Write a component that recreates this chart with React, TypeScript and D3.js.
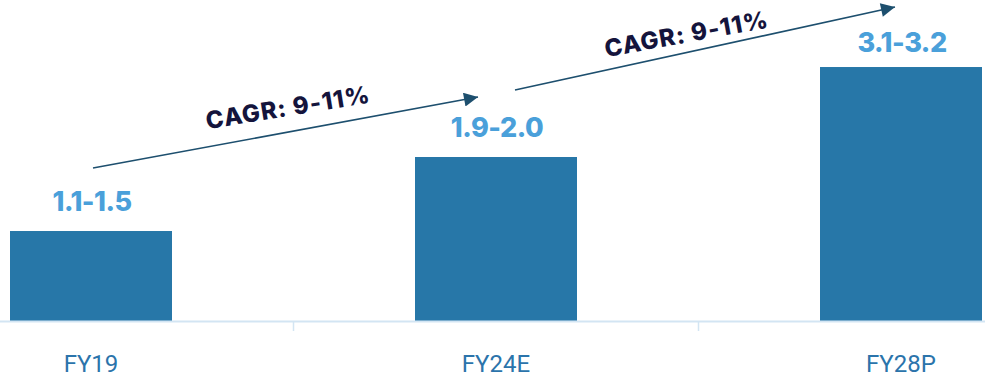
import React from "react";
import * as d3 from "d3";

const categories = ["FY19", "FY24E", "FY28P"];
const values = [1.07, 1.95, 3.02];
const valueLabels = ["1.1-1.5", "1.9-2.0", "3.1-3.2"];
const cagrLabels = ["CAGR: 9-11%", "CAGR: 9-11%"];

const W = 985;
const H = 379;
const baseline = 321;

const BAR = "#2777a8";
const LABEL = "#4aa0da";
const AXIS = "#d3e5f3";
const CAT = "#2b74ab";
const ARROW = "#1d4f6e";
const CAGR = "#14143c";

export default function App() {
  const x = d3.scalePoint<string>().domain(categories).range([91, 901]);
  const step = x.step();
  const barW = step * 0.4;
  const y = d3.scaleLinear().domain([0, 3.5]).range([baseline, baseline - 3.5 * 84.1]);

  const ticks = categories.slice(0, -1).map((c) => (x(c) as number) + step / 2);

  const arrows = categories.slice(0, -1).map((c, i) => {
    const x1 = (x(c) as number) + (i === 0 ? 2 : 19);
    const y1 = y(values[i]) - (i === 0 ? 63 : 67);
    const x2 = (x(categories[i + 1]) as number) - (i === 0 ? 18 : 6);
    const y2 = y(values[i + 1]) - 60;
    return { x1, y1, x2, y2 };
  });

  const textT = [0.51, 0.455];
  const textOff = [16, 10];
  const textTilt = [1.2, 2];

  return (
    <svg
      width={W}
      height={H}
      style={{ position: "absolute", left: 0, top: 0, background: "#fff" }}
    >
      <defs>
        <marker
          id="ah"
          viewBox="0 0 10 10"
          refX="10"
          refY="5"
          markerUnits="userSpaceOnUse"
          markerWidth="18"
          markerHeight="14"
          orient="auto"
        >
          <path d="M0,0 L10,5 L0,10 Z" fill={ARROW} />
        </marker>
      </defs>
      {categories.map((c, i) => (
        <rect
          key={c}
          x={(x(c) as number) - barW / 2}
          y={y(values[i])}
          width={barW}
          height={baseline - y(values[i])}
          fill={BAR}
        />
      ))}
      <line x1={0} x2={W} y1={baseline + 0.5} y2={baseline + 0.5} stroke={AXIS} strokeWidth={2} />
      {ticks.map((t, i) => (
        <line key={i} x1={t} x2={t} y1={baseline} y2={baseline + 10} stroke={AXIS} strokeWidth={1.5} />
      ))}
      {categories.map((c) => (
        <text
          key={c}
          x={x(c) as number}
          y={372}
          textAnchor="middle"
          fill={CAT}
          fontFamily="Roboto, sans-serif"
          fontSize={24}
        >
          {c}
        </text>
      ))}
      {categories.map((c, i) => (
        <text
          key={c + "v"}
          x={(x(c) as number) + 1}
          y={y(values[i]) - (i === 2 ? 15 : 20)}
          textAnchor="middle"
          fill={LABEL}
          fontFamily="Inter, sans-serif"
          fontWeight={800}
          fontSize={27}
          letterSpacing={-0.5}
        >
          {valueLabels[i]}
        </text>
      ))}
      {arrows.map((a, i) => {
        const ang = (Math.atan2(a.y2 - a.y1, a.x2 - a.x1) * 180) / Math.PI;
        const cx = a.x1 + (a.x2 - a.x1) * textT[i];
        const cy = a.y1 + (a.y2 - a.y1) * textT[i] - textOff[i];
        return (
          <g key={i}>
            <line
              x1={a.x1}
              y1={a.y1}
              x2={a.x2}
              y2={a.y2}
              stroke={ARROW}
              strokeWidth={1.6}
              markerEnd="url(#ah)"
            />
            <text
              transform={`translate(${cx},${cy}) rotate(${ang + textTilt[i]})`}
              textAnchor="middle"
              fill={CAGR}
              fontFamily="Inter, sans-serif"
              fontWeight={800}
              fontSize={24}
              letterSpacing={1}
            >
              {cagrLabels[i]}
            </text>
          </g>
        );
      })}
    </svg>
  );
}
